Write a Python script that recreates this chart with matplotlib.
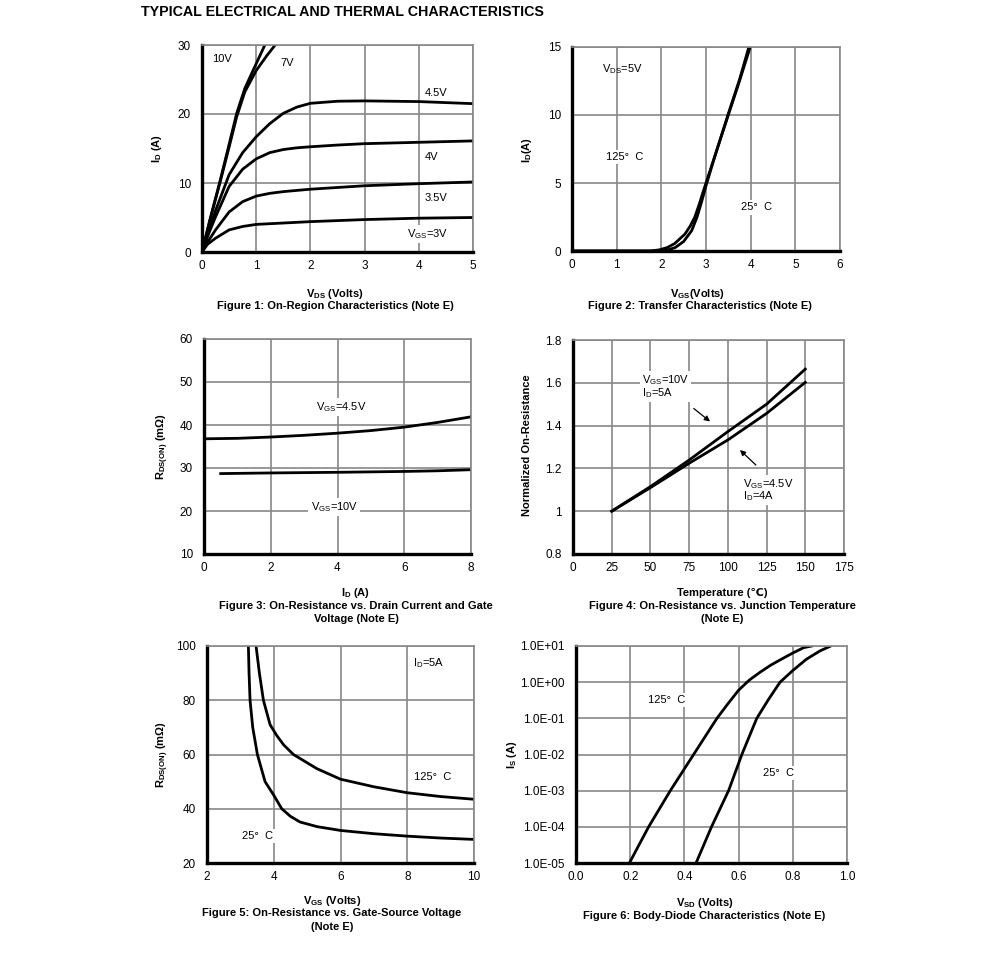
import matplotlib
matplotlib.use("Agg")
import matplotlib.pyplot as plt
from matplotlib.ticker import FixedLocator, NullLocator, FuncFormatter

plt.rcParams['font.family'] = ['Liberation Sans', 'DejaVu Sans']
plt.rcParams['mathtext.fontset'] = 'custom'
plt.rcParams['mathtext.rm'] = 'Liberation Sans'
plt.rcParams['mathtext.bf'] = 'Liberation Sans:bold'
plt.rcParams['font.size'] = 8

W, H = 991, 972

# figure 1: on-region characteristics
vds_3v = [0, 0.1, 0.25, 0.5, 0.75, 1, 1.5, 2, 3, 4, 5]
id_3v = [0, 1.1, 2.0, 3.2, 3.7, 4.0, 4.2, 4.4, 4.7, 4.9, 5.0]
vds_35v = [0, 0.1, 0.25, 0.5, 0.75, 1, 1.25, 1.5, 2, 3, 4, 5]
id_35v = [0, 1.4, 3.2, 5.8, 7.3, 8.1, 8.5, 8.75, 9.1, 9.6, 9.9, 10.15]
vds_4v = [0, 0.1, 0.25, 0.5, 0.75, 1, 1.25, 1.5, 1.75, 2, 2.5, 3, 4, 5]
id_4v = [0, 2.2, 5.1, 9.5, 12.0, 13.5, 14.4, 14.85, 15.1, 15.25, 15.5, 15.7, 15.9, 16.1]
vds_45v = [0, 0.1, 0.25, 0.5, 0.75, 1, 1.25, 1.5, 1.75, 2, 2.5, 3, 4, 5]
id_45v = [0, 2.4, 6.0, 11.2, 14.4, 16.7, 18.6, 20.1, 21.0, 21.55, 21.85, 21.9, 21.8, 21.5]
vds_7v = [0, 0.15, 0.33, 0.5, 0.64, 0.79, 1.0, 1.2, 1.35]
id_7v = [0, 4.7, 10.0, 15.2, 19.6, 23.2, 26.3, 28.5, 30.0]
vds_10v = [0, 0.15, 0.33, 0.5, 0.64, 0.79, 0.9, 1.0, 1.16]
id_10v = [0, 4.8, 10.2, 15.6, 20.1, 23.7, 25.6, 27.3, 30.0]

# figure 2: transfer characteristics
vgs_125 = [0, 1.75, 1.95, 2.13, 2.3, 2.53, 2.65, 2.75, 2.85, 2.94, 3.05, 3.25, 3.5, 3.75, 3.99]
id_125 = [0, 0, 0.08, 0.25, 0.55, 1.25, 1.85, 2.5, 3.45, 4.4, 5.5, 7.5, 10.0, 12.5, 15.0]
vgs_25 = [0, 2.0, 2.15, 2.31, 2.5, 2.68, 2.8, 2.9, 3.0, 3.1, 3.25, 3.5, 3.75, 3.96]
id_25 = [0, 0, 0.08, 0.25, 0.7, 1.5, 2.5, 3.6, 4.8, 5.9, 7.5, 10.1, 12.6, 15.0]

# figure 3: on-resistance vs drain current
id_r45 = [0.1, 1, 2, 3, 4, 5, 6, 7, 8]
r_45 = [36.8, 36.9, 37.2, 37.6, 38.1, 38.7, 39.5, 40.6, 41.9]
id_r10 = [0.5, 2, 4, 6, 7, 8]
r_10 = [28.7, 28.85, 29.0, 29.2, 29.35, 29.6]

# figure 4: normalized on-resistance vs temperature
temp = [25, 50, 75, 100, 125, 150]
rn_10v = [1.0, 1.115, 1.239, 1.372, 1.50, 1.664]
rn_45v = [1.0, 1.11, 1.224, 1.333, 1.457, 1.602]

# figure 5: on-resistance vs gate-source voltage
vgs5_25 = [3.24, 3.26, 3.29, 3.37, 3.51, 3.74, 4.0, 4.24, 4.5, 4.79, 5.3, 6, 7, 8, 9, 10]
r5_25 = [100, 90, 80, 70, 60, 50, 45, 40, 37.2, 35.1, 33.4, 32, 30.8, 29.9, 29.2, 28.7]
vgs5_125 = [3.47, 3.57, 3.69, 3.89, 4.09, 4.3, 4.59, 5.29, 6, 7, 8, 9, 10]
r5_125 = [100, 90, 80, 71, 67, 63.5, 60, 54.8, 50.9, 48.1, 45.9, 44.5, 43.5]

# figure 6: body-diode characteristics
vsd_125 = [0.197, 0.268, 0.348, 0.434, 0.52, 0.56, 0.6, 0.64, 0.68, 0.72, 0.76, 0.8, 0.84, 0.87]
is_125 = [1e-5, 1e-4, 1e-3, 1e-2, 1e-1, 0.25, 0.6, 1.15, 1.9, 3.0, 4.4, 6.4, 9.0, 10.0]
vsd_25 = [0.443, 0.50, 0.563, 0.612, 0.667, 0.71, 0.753, 0.8, 0.85, 0.9, 0.94]
is_25 = [1e-5, 1e-4, 1e-3, 1e-2, 1e-1, 0.33, 1.0, 2.1, 4.3, 7.3, 10.0]


def px(x, y):
    return x / W, 1 - y / H


def make_ax(fig, l, t, r, b):
    ax = fig.add_axes([l / W, 1 - b / H, (r - l) / W, (b - t) / H])
    ax.grid(True, color='#888888', lw=1.2)
    ax.set_axisbelow(True)
    for s in ['left', 'bottom']:
        ax.spines[s].set_color('black')
        ax.spines[s].set_linewidth(2.4)
    for s in ['top', 'right']:
        ax.spines[s].set_color('#888888')
        ax.spines[s].set_linewidth(1.2)
    ax.tick_params(length=0, labelsize=8.5)
    ax.tick_params(axis='y', pad=8)
    ax.tick_params(axis='x', pad=6)
    return ax


def label(ax, x, y, s, bg=True, ha='left', ls=1.2):
    kw = {}
    if bg:
        kw['bbox'] = dict(facecolor='white', edgecolor='none', pad=1.5)
    ax.text(x, y, s, fontsize=8, ha=ha, va='center', zorder=5,
            linespacing=ls, **kw)


fig = plt.figure(figsize=(W / 100, H / 100), dpi=100)
fig.text(*px(141, 12), 'TYPICAL ELECTRICAL AND THERMAL CHARACTERISTICS',
         fontsize=10.3, fontweight='bold', va='center')

lw = 2.0

# fig 1
ax1 = make_ax(fig, 202, 45, 473, 252)
for xs, ys in [(vds_3v, id_3v), (vds_35v, id_35v), (vds_4v, id_4v),
               (vds_45v, id_45v), (vds_7v, id_7v), (vds_10v, id_10v)]:
    ax1.plot(xs, ys, color='black', lw=lw)
ax1.set_xlim(0, 5)
ax1.set_ylim(0, 30)
ax1.set_xticks(range(0, 6))
ax1.set_yticks([0, 10, 20, 30])
label(ax1, 0.18, 27.9, '10V', bg=False)
label(ax1, 1.44, 27.4, '7V', bg=False)
label(ax1, 4.11, 23.0, '4.5V', bg=False)
label(ax1, 4.11, 13.8, '4V', bg=False)
label(ax1, 4.11, 7.8, '3.5V', bg=False)
label(ax1, 3.78, 2.6, r'V$_\mathrm{GS}$=3V')

# fig 2
ax2 = make_ax(fig, 572, 47, 840, 251)
ax2.plot(vgs_125, id_125, color='black', lw=lw)
ax2.plot(vgs_25, id_25, color='black', lw=lw)
ax2.set_xlim(0, 6)
ax2.set_ylim(0, 15)
ax2.set_xticks(range(0, 7))
ax2.set_yticks([0, 5, 10, 15])
label(ax2, 0.67, 13.4, r'V$_\mathrm{DS}$=5V', bg=False)
label(ax2, 0.75, 6.9, '125°  C')
label(ax2, 3.78, 3.2, '25°  C')

# fig 3
ax3 = make_ax(fig, 204, 339, 471, 554)
ax3.plot(id_r45, r_45, color='black', lw=lw)
ax3.plot(id_r10, r_10, color='black', lw=lw)
ax3.set_xlim(0, 8)
ax3.set_ylim(10, 60)
ax3.set_xticks([0, 2, 4, 6, 8])
ax3.set_yticks([10, 20, 30, 40, 50, 60])
label(ax3, 4.1, 44.2, r'V$_\mathrm{GS}$=4.5V', ha='center')
label(ax3, 3.9, 21.0, r'V$_\mathrm{GS}$=10V', ha='center')

# fig 4
ax4 = make_ax(fig, 573, 340, 844, 554)
ax4.plot(temp, rn_10v, color='black', lw=lw)
ax4.plot(temp, rn_45v, color='black', lw=lw)
ax4.set_xlim(0, 175)
ax4.set_ylim(0.8, 1.8)
ax4.set_xticks(range(0, 176, 25))
ax4.set_yticks([0.8, 1.0, 1.2, 1.4, 1.6, 1.8])
ax4.yaxis.set_major_formatter(FuncFormatter(lambda v, p: '%g' % round(v, 2)))
label(ax4, 44.5, 1.582, r'V$_\mathrm{GS}$=10V' + '\n' + r'I$_\mathrm{D}$=5A', ls=0.85)
label(ax4, 109.7, 1.099, r'V$_\mathrm{GS}$=4.5V' + '\n' + r'I$_\mathrm{D}$=4A', ls=0.85)
ax4.annotate('', xy=(89.9, 1.411), xytext=(76.6, 1.488),
             arrowprops=dict(arrowstyle='-|>', color='black', lw=0.9,
                             mutation_scale=8))
ax4.annotate('', xy=(106.5, 1.295), xytext=(119.4, 1.207),
             arrowprops=dict(arrowstyle='-|>', color='black', lw=0.9,
                             mutation_scale=8))

# fig 5
ax5 = make_ax(fig, 207, 646, 474, 863)
ax5.plot(vgs5_25, r5_25, color='black', lw=lw)
ax5.plot(vgs5_125, r5_125, color='black', lw=lw)
ax5.set_xlim(2, 10)
ax5.set_ylim(20, 100)
ax5.set_xticks([2, 4, 6, 8, 10])
ax5.set_yticks([20, 40, 60, 80, 100])
label(ax5, 8.17, 93.6, r'I$_\mathrm{D}$=5A', bg=False)
label(ax5, 8.2, 51.7, '125°  C', bg=False)
label(ax5, 3.05, 29.9, '25°  C')

# fig 6
ax6 = make_ax(fig, 576, 646, 847, 863)
ax6.plot(vsd_125, is_125, color='black', lw=lw)
ax6.plot(vsd_25, is_25, color='black', lw=lw)
ax6.set_yscale('log')
ax6.set_xlim(0, 1.0)
ax6.set_ylim(1e-5, 1e1)
ax6.set_xticks([0, 0.2, 0.4, 0.6, 0.8, 1.0])
ax6.xaxis.set_major_formatter(FuncFormatter(lambda v, p: '%.1f' % v))
ax6.yaxis.set_major_locator(FixedLocator([10.0 ** k for k in range(-5, 2)]))
ax6.yaxis.set_minor_locator(NullLocator())
ax6.yaxis.set_major_formatter(FuncFormatter(lambda v, p: '%.1E' % v))
label(ax6, 0.267, 0.32, '125°  C')
label(ax6, 0.69, 3.1e-3, '25°  C')

# axis labels
bold = dict(fontsize=8, fontweight='bold', ha='center', va='center')
fig.text(*px(157, 148), r'I$_\mathbf{D}$ (A)', rotation=90, **bold)
fig.text(*px(527, 150), r'I$_\mathbf{D}$(A)', rotation=90, **bold)
fig.text(*px(163, 447), r'R$_\mathbf{DS(ON)}$ (m$\mathbf{\Omega}$)', rotation=90, **bold)
fig.text(*px(527, 445), 'Normalized On-Resistance', rotation=90, **bold)
fig.text(*px(163, 755), r'R$_\mathbf{DS(ON)}$ (m$\mathbf{\Omega}$)', rotation=90, **bold)
fig.text(*px(512, 755), r'I$_\mathbf{S}$ (A)', rotation=90, **bold)

fig.text(*px(335, 294), r'V$_\mathbf{DS}$ (Volts)', **bold)
fig.text(*px(698, 294), r'V$_\mathbf{GS}$(Volts)', **bold)
fig.text(*px(356, 593), r'I$_\mathbf{D}$ (A)', **bold)
fig.text(*px(722, 593), 'Temperature (℃)', **bold)
fig.text(*px(332, 901), r'V$_\mathbf{GS}$ (Volts)', **bold)
fig.text(*px(705, 903), r'V$_\mathbf{SD}$ (Volts)', **bold)

fig.text(*px(335, 306), 'Figure 1: On-Region Characteristics (Note E)', **bold)
fig.text(*px(700, 306), 'Figure 2: Transfer Characteristics (Note E)', **bold)
fig.text(*px(356, 606), 'Figure 3: On-Resistance vs. Drain Current and Gate', **bold)
fig.text(*px(356, 619), 'Voltage (Note E)', **bold)
fig.text(*px(722, 606), 'Figure 4: On-Resistance vs. Junction Temperature', **bold)
fig.text(*px(722, 619), '(Note E)', **bold)
fig.text(*px(332, 913), 'Figure 5: On-Resistance vs. Gate-Source Voltage', **bold)
fig.text(*px(332, 927), '(Note E)', **bold)
fig.text(*px(704, 916), 'Figure 6: Body-Diode Characteristics (Note E)', **bold)

fig.savefig('out.png', dpi=100, facecolor='white')
